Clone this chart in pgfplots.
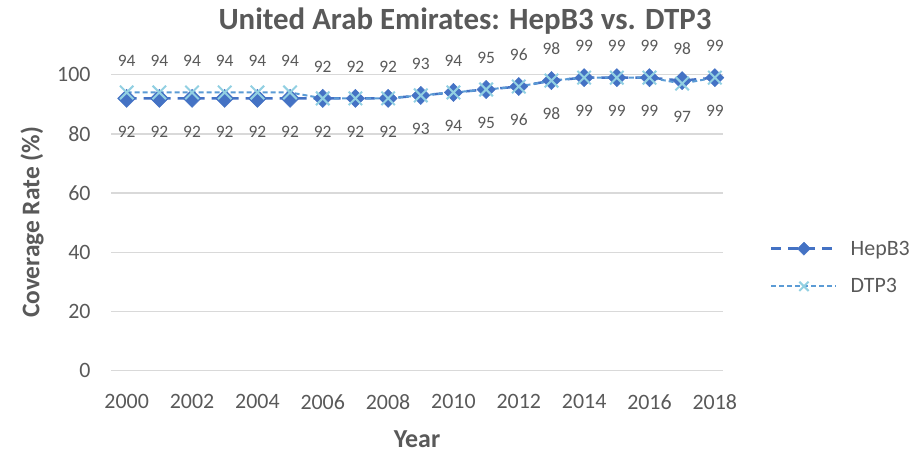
\documentclass[border=0pt]{standalone}
\usepackage{pgfplots}
\pgfplotsset{compat=1.18}
\usepackage{fontspec}
\setmainfont{Carlito}
\definecolor{txt}{HTML}{595959}
\definecolor{hep}{HTML}{4472C4}
\definecolor{dtpl}{HTML}{5B9BD5}
\definecolor{dtpm}{HTML}{92D0E2}
\definecolor{gridc}{HTML}{D9D9D9}
\pgfplotsset{legend image code/.code={\draw[#1, mark repeat=2, mark phase=2] plot coordinates {(0bp,0bp) (32.5bp,0bp) (65bp,0bp)};}}
\pgfplotstableread{
year hep dtp top bot
2000 92 94 94 92
2001 92 94 94 92
2002 92 94 94 92
2003 92 94 94 92
2004 92 94 94 92
2005 92 94 94 92
2006 92 92 92 92
2007 92 92 92 92
2008 92 92 92 92
2009 93 93 93 93
2010 94 94 94 94
2011 95 95 95 95
2012 96 96 96 96
2013 98 98 98 98
2014 99 99 99 99
2015 99 99 99 99
2016 99 99 99 99
2017 98 97 98 97
2018 99 99 99 99
}\data
\begin{document}
\begin{tikzpicture}
\path[use as bounding box] (0bp,0bp) rectangle (912bp,452bp);
\begin{axis}[
  at={(111bp,81.3bp)}, anchor=south west,
  scale only axis, width=612bp, height=296bp,
  xmin=1999.52, xmax=2018.25, ymin=0, ymax=100,
  xtick={2000,2002,...,2018}, ytick={0,20,...,100},
  axis line style={draw=none}, major tick length=0pt,
  ymajorgrids, grid style={gridc, line width=1.3bp},
  /pgf/number format/assume math mode=true,
  /pgf/number format/1000 sep={},
  tick label style={font=\fontsize{22}{22}\selectfont, text=txt},
  xticklabel style={anchor=center, yshift=-31bp},
  yticklabel style={anchor=east, xshift=-17bp},
  clip=false,
  legend style={at={(axis description cs:1.0768,0.3486)}, anchor=west,
    draw=none, fill=none, inner sep=0pt, row sep=22bp,
    nodes={inner sep=0pt, text=txt, font=\fontsize{22}{22}\selectfont},
    /tikz/every odd column/.append style={column sep=13bp}},
  legend cell align=left,
]
\addplot[hep, line width=2.5bp, dash pattern=on 10bp off 7bp, mark=square*,
  mark size=6.4bp, mark options={solid, rotate=45, fill=hep, draw=hep, line width=0.5bp},
  legend image post style={mark size=4.6bp}]
  table[x=year, y=hep] {\data};
\addlegendentry{HepB3}
\addplot[dtpl, line width=2bp, dash pattern=on 5bp off 3bp, mark=x,
  mark size=9.5bp, mark options={solid, draw=dtpm, line width=2bp},
  legend image post style={mark size=6.5bp}]
  table[x=year, y=dtp] {\data};
\addlegendentry{DTP3}
\addplot[draw=none, nodes near coords, point meta=explicit,
  every node near coord/.append style={anchor=center, yshift=32bp, font=\fontsize{17.5}{17.5}\selectfont, text=txt}]
  table[x=year, y=top, meta=top] {\data};
\addplot[draw=none, nodes near coords, point meta=explicit,
  every node near coord/.append style={anchor=center, yshift=-33bp, font=\fontsize{17.5}{17.5}\selectfont, text=txt}]
  table[x=year, y=bot, meta=bot] {\data};
\end{axis}
\node[font=\bfseries\fontsize{31}{31}\selectfont, text=txt] at (465bp,431bp) {United Arab Emirates: HepB3 vs. DTP3};
\node[font=\bfseries\fontsize{25.5}{25.5}\selectfont, text=txt, rotate=90] at (32bp,229.5bp) {Coverage Rate (\%)};
\node[font=\bfseries\fontsize{26}{26}\selectfont, text=txt, inner sep=0pt] at (417bp,13bp) {Year};
\end{tikzpicture}
\end{document}
